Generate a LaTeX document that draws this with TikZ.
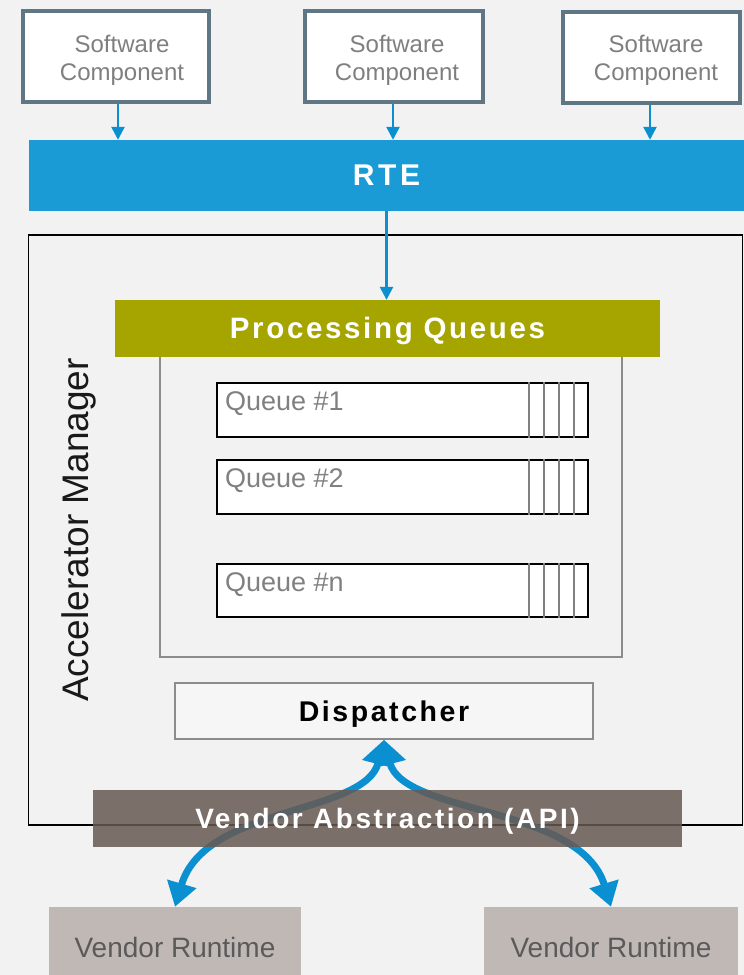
\documentclass[tikz,border=0pt]{standalone}
\usepackage{fontspec}
\setmainfont{Liberation Sans}
\usetikzlibrary{arrows.meta}

\definecolor{bg}{HTML}{F2F2F2}
\definecolor{swborder}{HTML}{5F7684}
\definecolor{swtext}{HTML}{7F7F7F}
\definecolor{rteblue}{HTML}{1A9BD5}
\definecolor{flowblue}{HTML}{0A90D1}
\definecolor{olivebar}{HTML}{A6A500}
\definecolor{vendorbar}{HTML}{675953}
\definecolor{runtimefill}{HTML}{C0B8B5}
\definecolor{runtimetext}{HTML}{5A5A5A}
\definecolor{framegray}{HTML}{8C8C8C}
\definecolor{divgray}{HTML}{808080}
\definecolor{dispfill}{HTML}{F6F6F6}

\begin{document}
\begin{tikzpicture}[x=1pt,y=-1pt,
  swbox/.style={draw=swborder, line width=4pt, fill=white, inner sep=0pt,
    minimum height=91pt},
  swlabel/.style={inner sep=0pt, align=center, text=swtext,
    font=\fontsize{24}{28}\selectfont},
  capcenter/.style={text height=20.5pt, text depth=0pt},
  bar/.style={inner sep=0pt, text=white, capcenter},
  barfont/.style={font=\fontsize{#1}{30}\selectfont\bfseries\addfontfeatures{LetterSpace=9}},
  queue/.style={draw=black, line width=2pt, fill=white, inner sep=0pt,
    minimum width=371pt, minimum height=53.5pt},
  qlabel/.style={inner sep=0pt, text=divgray, font=\fontsize{27}{30}\selectfont},
  divider/.style={draw=divgray, line width=2pt},
  smallflow/.style={draw=flowblue, line width=2.5pt,
    -{Triangle[width=13pt,length=13pt]}},
  bigflow/.style={draw=flowblue, line width=7pt,
    {Triangle[width=31pt,length=25pt]}-{Triangle[width=29pt,length=24pt]}},
  runtime/.style={fill=runtimefill, inner sep=0pt, minimum height=80pt,
    text=runtimetext, font=\fontsize{28}{32}\selectfont}
]
% canvas
\fill[bg] (0,0) rectangle (744,975);
\useasboundingbox (0,0) rectangle (744,975);

% software components
\node[swbox, minimum width=186pt] (sw1) at (116,56.5) {};
\node[swbox, minimum width=178pt] (sw2) at (394,56.5) {};
\node[swbox, minimum width=177pt] (sw3) at (651.5,57) {};
\node[swlabel] (sw1t) at ([shift={(6,3.5)}]sw1.center) {Software\\Component};
\node[swlabel] (sw2t) at ([shift={(3,3.5)}]sw2.center) {Software\\Component};
\node[swlabel] (sw3t) at ([shift={(4.5,3)}]sw3.center) {Software\\Component};

% runtime environment bar
\node[bar, fill=rteblue, minimum width=715pt, minimum height=71pt,
      font=\fontsize{30}{32}\selectfont\bfseries\addfontfeatures{LetterSpace=12}]
      (rte) at (386.5,175.5) {RTE};

\draw[smallflow] ([xshift=2pt]sw1.south) -- ([xshift=2pt]sw1.south |- rte.north);
\draw[smallflow] ([xshift=-1pt]sw2.south) -- ([xshift=-1pt]sw2.south |- rte.north);
\draw[smallflow] ([xshift=-1.5pt]sw3.south) -- ([xshift=-1.5pt]sw3.south |- rte.north);

% accelerator manager frame
\node[draw=black, line width=1.8pt, inner sep=0pt,
      minimum width=714pt, minimum height=590pt] (am) at (385.5,530) {};
\node[rotate=90, anchor=base, inner sep=0pt, text=black!90,
      font=\fontsize{37}{44}\selectfont] (amlabel) at (88,530) {Accelerator Manager};

% processing queues
\node[draw=framegray, line width=1.5pt, inner sep=0pt,
      minimum width=462pt, minimum height=301pt] (qarea) at (391,506.5) {};
\node[bar, barfont=29.5, fill=olivebar, minimum width=545pt, minimum height=56.5pt]
      (pq) at (387.5,328.3) {Processing Queues};
\draw[smallflow] (rte.south) -- (rte.south |- pq.north);

\node[queue] (q1) at (402.5,410) {};
\node[queue] (q2) at (402.5,487) {};
\node[queue] (qn) at (402.5,590.5) {};
\foreach \q in {q1,q2,qn}
  \foreach \d in {15,30,45,60}
    \draw[divider] ([xshift=-\d pt]\q.north east) -- ([xshift=-\d pt]\q.south east);
\node[qlabel, anchor=base west] (q1l) at ([shift={(9,28.5)}]q1.north west) {Queue \#1};
\node[qlabel, anchor=base west] (q2l) at ([shift={(9,28.5)}]q2.north west) {Queue \#2};
\node[qlabel, anchor=base west] (qnl) at ([shift={(9,28.5)}]qn.north west) {Queue \#n};

% dispatcher
\node[draw=framegray, fill=dispfill, line width=1.5pt, inner sep=0pt, capcenter,
      minimum width=418pt, minimum height=56pt, barfont=28.5, text=black]
      (disp) at (384,711) {Dispatcher};

% vendor runtimes
\node[runtime, minimum width=252pt] (vr1) at (175,947) {Vendor Runtime};
\node[runtime, minimum width=254pt] (vr2) at (611,947) {Vendor Runtime};

% flows between dispatcher and runtimes
\draw[bigflow] (disp.south) .. controls (365,815) and (205,805) .. (vr1.north);
\draw[bigflow] (disp.south) .. controls (403,815) and (580,805) .. (vr2.north);

% vendor abstraction layer, drawn translucent over the flows
\node[bar, barfont=28, fill=vendorbar, fill opacity=0.85, text opacity=1,
      minimum width=589pt, minimum height=57pt] (va) at (387.5,818.5)
      {Vendor Abstraction (API)};
\end{tikzpicture}
\end{document}
